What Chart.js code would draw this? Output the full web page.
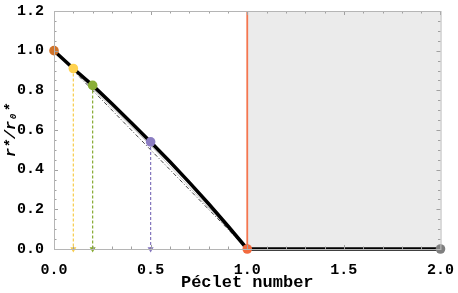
<!DOCTYPE html>
<html>
<head>
<meta charset="utf-8">
<script src="https://cdn.jsdelivr.net/npm/chart.js@4.4.1/dist/chart.umd.min.js"></script>
<style>
  html, body { margin: 0; padding: 0; background: #fff; }
  #wrap { width: 458px; height: 293px; }
</style>
</head>
<body>
<div id="wrap"><canvas id="chart"></canvas></div>
<script>
// curve r*/r0* vs Peclet number (Pe <= 1), then zero beyond
const peclet = [0, 0.1, 0.2, 0.3, 0.4, 0.5, 0.6, 0.7, 0.8, 0.9, 1.0];
const radiusRatio = [1, 0.91, 0.825, 0.732, 0.637, 0.54, 0.44, 0.336, 0.228, 0.116, 0];
const flatX = [1.0, 2.0];
const flatY = [0, 0];

// reference lines (dash-dot straight line and thin gray one)
const refX = [0, 1];
const refY = [1, 0];
const approxX = [0, 0.5, 1];
const approxY = [1, 0.522, 0];

// highlighted points
const markX = [0, 0.1, 0.2, 0.5, 1.0, 2.0];
const markY = [1, 0.91, 0.825, 0.54, 0, 0];
const markColors = ['#d0732a', '#ffd24f', '#8aae36', '#8b7dc2', '#f26a3e', '#7f7f7f'];
const dropColors = ['#f7cc4a', '#86aa32', '#8476bd'];

// shaded region and critical line
const shadeX = [1, 2];
const shadeTop = 1.2;
const critX = 1;

const xTicks = [0, 0.5, 1.0, 1.5, 2.0];
const yTicks = [0, 0.2, 0.4, 0.6, 0.8, 1.0, 1.2];

const datasets = [];

datasets.push({
    data: shadeX.map(x => ({ x, y: shadeTop })),
    borderWidth: 0,
    pointRadius: 0,
    fill: 'origin',
    backgroundColor: '#ebebeb',
    order: 20
});

datasets.push({
    data: [{ x: critX, y: 0 }, { x: critX, y: shadeTop }],
    borderColor: '#f4764f',
    borderWidth: 1.8,
    pointRadius: 0,
    order: 15
});

datasets.push({
    data: approxX.map((x, i) => ({ x, y: approxY[i] })),
    borderColor: '#b8b8b8',
    borderWidth: 0.8,
    pointRadius: 0,
    order: 12
});

datasets.push({
    data: refX.map((x, i) => ({ x, y: refY[i] })),
    borderColor: '#333',
    borderWidth: 0.9,
    borderDash: [4, 2, 1, 2],
    pointRadius: 0,
    order: 11
});

// dashed drop lines with arrow heads
[1, 2, 3].forEach((i, j) => {
    datasets.push({
        data: [{ x: markX[i], y: markY[i] }, { x: markX[i], y: 0 }],
        borderColor: dropColors[j],
        borderWidth: 1.2,
        borderDash: [3, 2],
        pointStyle: 'triangle',
        rotation: 180,
        pointRadius: [0, 3.5],
        pointBackgroundColor: dropColors[j],
        pointBorderWidth: 0,
        clip: false,
        order: 10
    });
});

datasets.push({
    data: peclet.map((x, i) => ({ x, y: radiusRatio[i] })),
    borderColor: '#000',
    borderWidth: 3.5,
    pointRadius: 0,
    tension: 0,
    borderJoinStyle: 'round',
    clip: false,
    order: 5
});

datasets.push({
    data: flatX.map((x, i) => ({ x, y: flatY[i] })),
    borderColor: '#000',
    borderWidth: 3.5,
    pointRadius: 0,
    clip: false,
    order: 5
});

datasets.push({
    data: markX.map((x, i) => ({ x, y: markY[i] })),
    showLine: false,
    pointRadius: 4.8,
    pointBackgroundColor: markColors,
    pointBorderWidth: 0,
    clip: false,
    order: 1
});

// inward tick marks on all four sides of the frame
const frameTicks = {
    id: 'frameTicks',
    afterDatasetsDraw(chart) {
        const { ctx, chartArea: a, scales } = chart;
        const xs = scales.x, ys = scales.y;
        ctx.save();
        ctx.strokeStyle = '#a0a0a0';
        ctx.lineWidth = 1;
        ctx.beginPath();
        for (let k = 0; k <= 20; k++) {
            const v = k / 10;
            const px = Math.round(xs.getPixelForValue(v)) + 0.5;
            const len = k % 5 === 0 ? 4 : 2.5;
            ctx.moveTo(px, a.bottom); ctx.lineTo(px, a.bottom - len);
            ctx.moveTo(px, a.top); ctx.lineTo(px, a.top + len);
        }
        for (let k = 0; k <= 24; k++) {
            const v = k / 20;
            const py = Math.round(ys.getPixelForValue(v)) + 0.5;
            const len = k % 4 === 0 ? 4 : 2.5;
            ctx.moveTo(a.left, py); ctx.lineTo(a.left + len, py);
            ctx.moveTo(a.right, py); ctx.lineTo(a.right - len, py);
        }
        ctx.stroke();
        ctx.strokeStyle = '#b5b5b5';
        ctx.strokeRect(a.left + 0.5, a.top + 0.5, a.right - a.left, a.bottom - a.top);
        ctx.restore();
    }
};

const tickFont = { family: 'Liberation Mono', size: 15, weight: 'bold' };

new Chart(document.getElementById('chart'), {
    type: 'line',
    data: { datasets },
    options: {
        responsive: true,
        maintainAspectRatio: false,
        animation: false,
        layout: { padding: { top: 9, right: 16, left: 2, bottom: 0 } },
        plugins: {
            legend: { display: false },
            tooltip: { enabled: false }
        },
        scales: {
            x: {
                type: 'linear',
                min: 0,
                max: 2,
                afterBuildTicks: s => { s.ticks = xTicks.map(v => ({ value: v })); },
                afterFit: s => { s.height = 44; },
                grid: { display: false },
                border: { display: false },
                ticks: {
                    color: '#000',
                    font: tickFont,
                    padding: 4,
                    maxRotation: 0,
                    callback: v => v.toFixed(1)
                },
                title: {
                    display: true,
                    text: 'Péclet number',
                    color: '#000',
                    font: { family: 'Liberation Mono', size: 17, weight: 'bold' },
                    padding: { top: 1, bottom: 0 }
                }
            },
            y: {
                type: 'linear',
                min: 0,
                max: 1.2,
                afterBuildTicks: s => { s.ticks = yTicks.map(v => ({ value: v })); },
                afterFit: s => { s.width = 52; },
                grid: { display: false },
                border: { display: false },
                ticks: {
                    color: '#000',
                    font: tickFont,
                    padding: 2,
                    callback: v => v.toFixed(1)
                },
                title: {
                    display: true,
                    text: 'r*/r₀*',
                    color: '#000',
                    font: { family: 'Liberation Mono', size: 15, weight: 'bold', style: 'italic' },
                    padding: { top: 0, bottom: 0 }
                }
            }
        }
    },
    plugins: [frameTicks]
});
</script>
</body>
</html>
